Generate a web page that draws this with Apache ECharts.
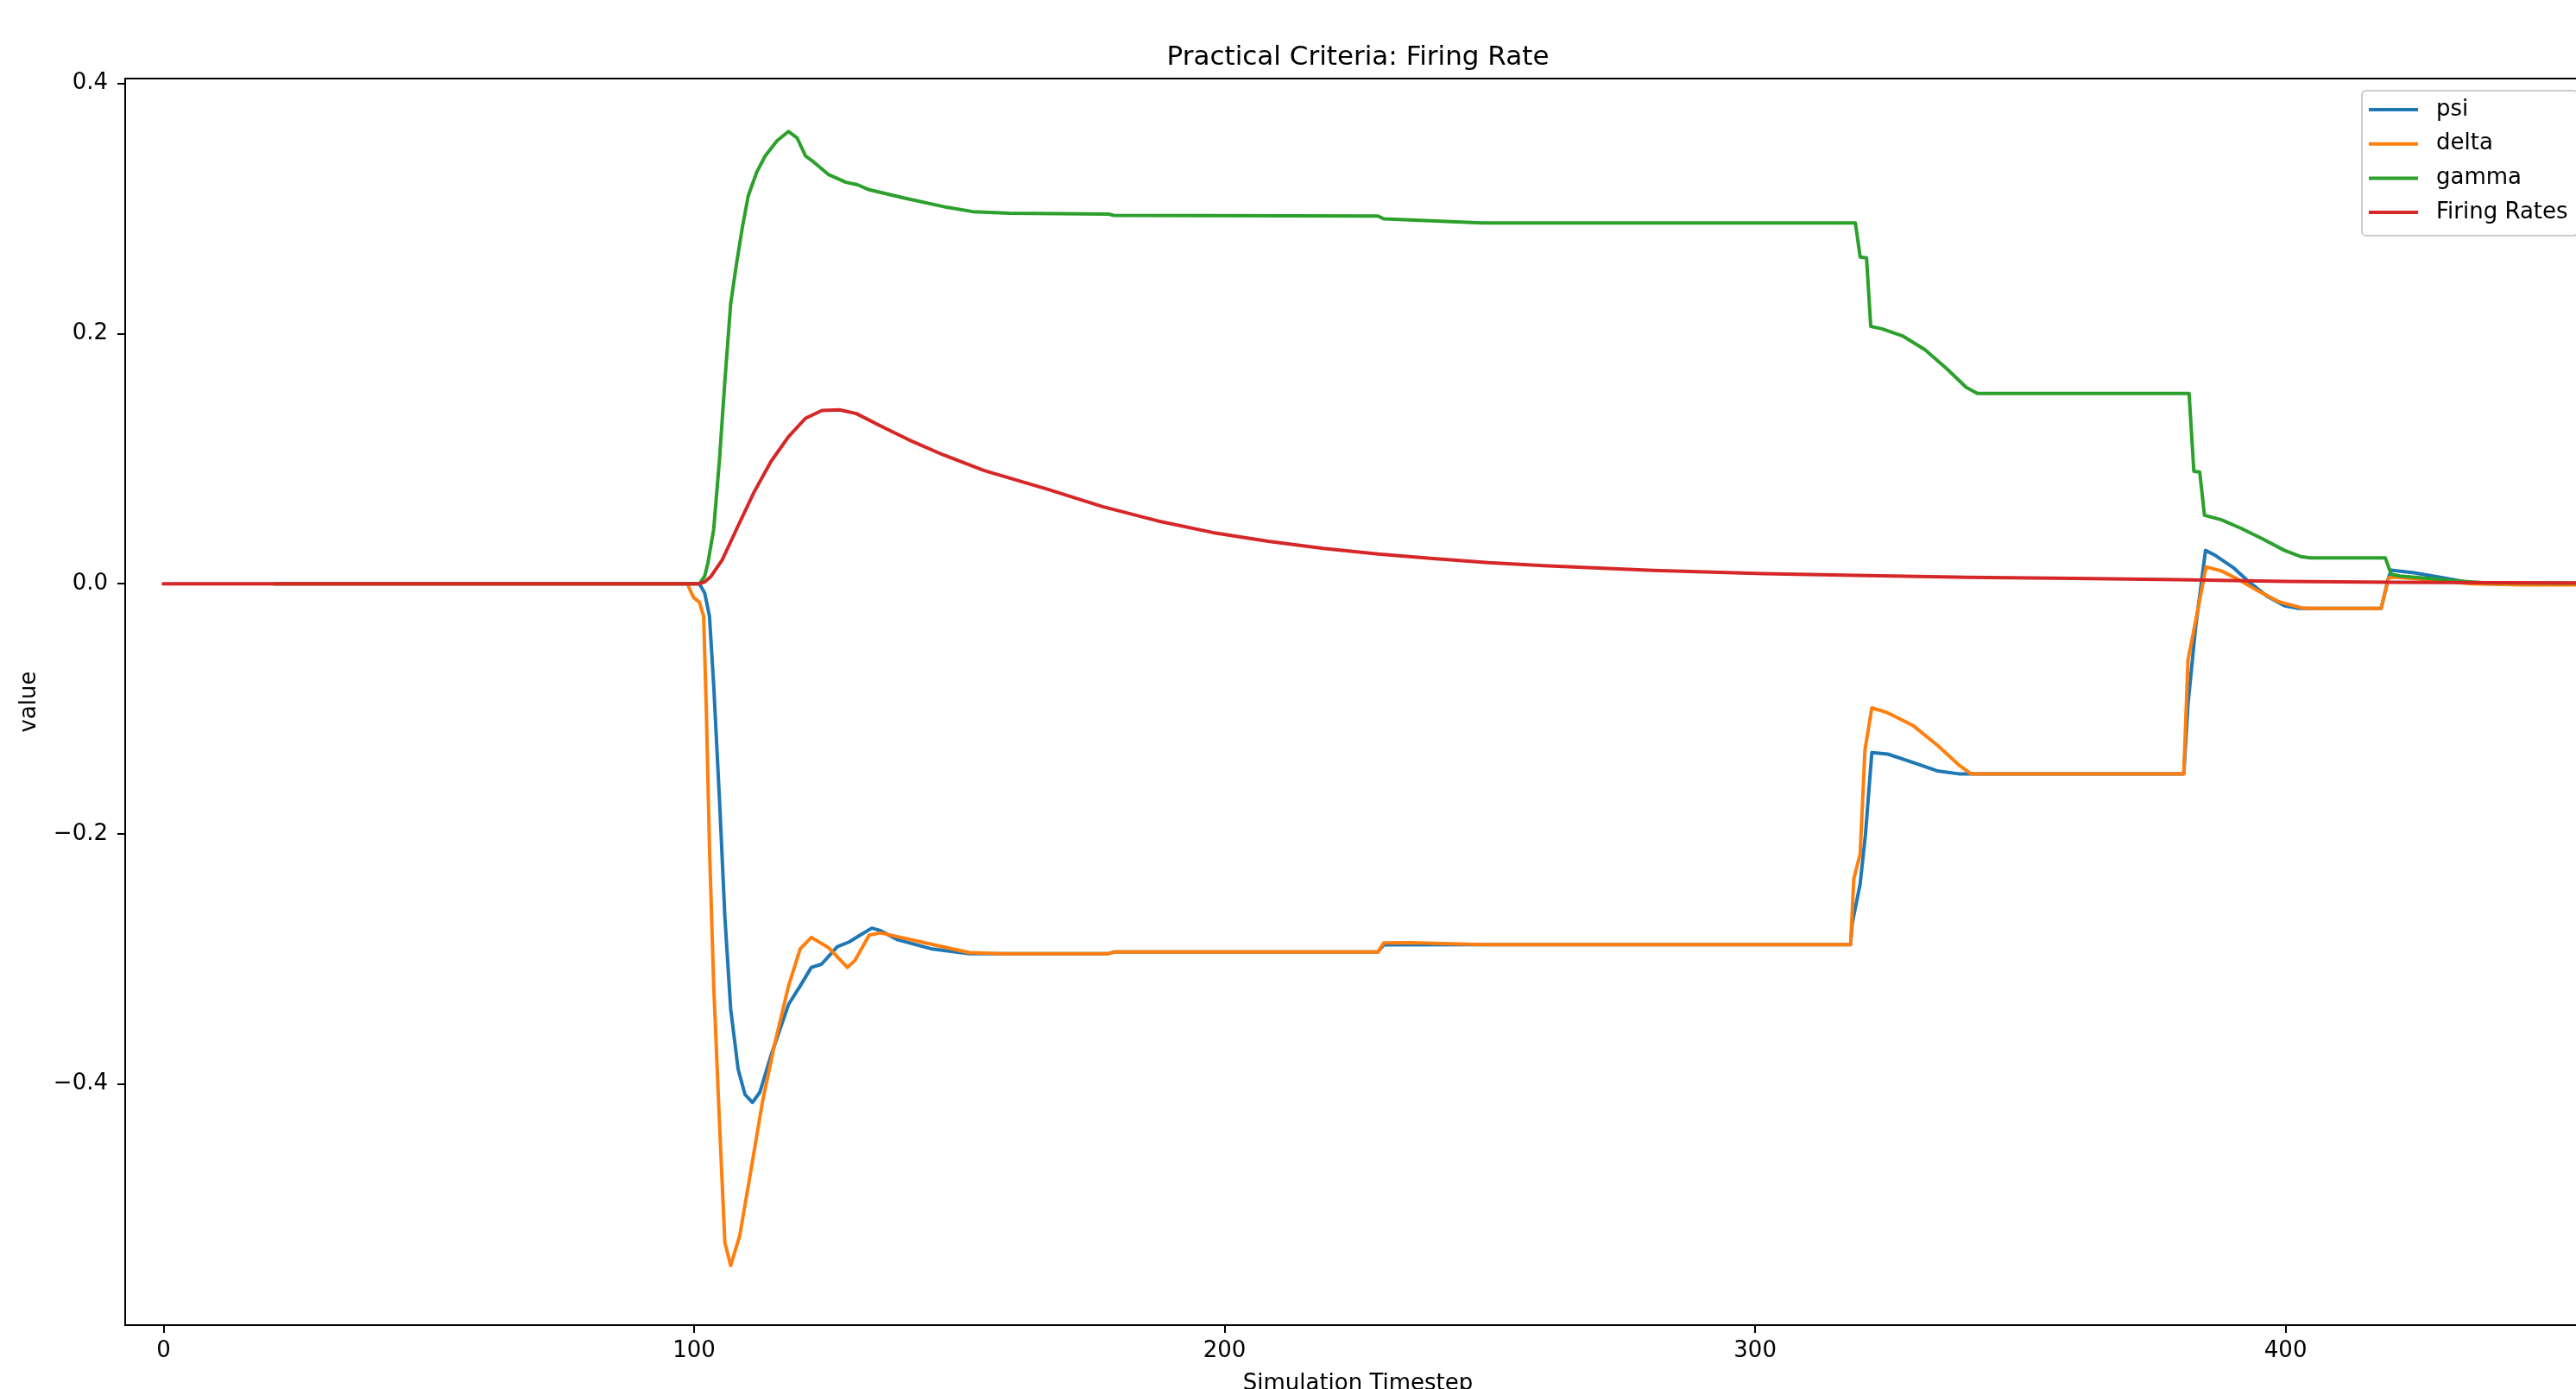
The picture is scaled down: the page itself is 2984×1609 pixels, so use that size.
<!DOCTYPE html>
<html>
<head>
<meta charset="utf-8">
<script src="https://cdn.jsdelivr.net/npm/echarts@6/dist/echarts.min.js"></script>
<style>
html,body{margin:0;padding:0;background:#fff;}
#chart{width:2984px;height:1609px;}
</style>
</head>
<body>
<div id="chart"></div>
<script>
// ---- data ([timestep, value]) ----
const seriesNames = ['psi', 'delta', 'gamma', 'Firing Rates'];
const xTickValues = [0, 100, 200, 300, 400];
const yTickValues = [-0.4, -0.2, 0, 0.2, 0.4];

const psi = [
  [21,0],[101,0],[102,-0.0075],[102.9,-0.026],[103.7,-0.0814],[104.8,-0.1738],[105.8,-0.2662],
  [106.9,-0.3401],[108.3,-0.3882],[109.6,-0.4085],[111,-0.4148],[112.4,-0.4066],[114.5,-0.3771],
  [117.8,-0.3364],[120,-0.3216],[122.1,-0.3068],[124,-0.3043],[127,-0.2902],[129.2,-0.2865],
  [131.3,-0.281],[133.5,-0.2754],[135.1,-0.2773],[138.4,-0.2847],[144.9,-0.2921],[151.9,-0.2958],
  [164.4,-0.2958],[178.1,-0.2958],[179.1,-0.2945],[228.9,-0.2945],[230,-0.2888],[248.6,-0.2885],
  [318,-0.2885],[318.3,-0.2716],[319.8,-0.24],[320.8,-0.2003],[322,-0.135],[325,-0.1362],
  [329.7,-0.1429],[334.3,-0.1496],[338.4,-0.152],[380.8,-0.152],[381.6,-0.0962],[383,-0.0362],
  [384.9,0.0266],[386.8,0.0225],[390.1,0.013],[393.3,0.0007],[396.6,-0.0103],[399.8,-0.0176],
  [402.5,-0.0198],[418,-0.0198],[419.4,0.0048],[419.9,0.0108],[424.2,0.0088],[429.6,0.0048],
  [435,0.0007],[440.4,-0.0001],[460,0]
];

const delta = [
  [21,0],[98.8,0],[99.1,-0.0037],[99.9,-0.011],[101,-0.0148],[101.8,-0.026],[102.3,-0.0999],
  [102.9,-0.2108],[103.7,-0.3217],[104.8,-0.4325],[105.8,-0.5268],[106.9,-0.5452],[108.6,-0.5213],
  [110.7,-0.4695],[112.9,-0.414],[115.1,-0.3697],[117.8,-0.3216],[120,-0.292],[122.1,-0.2828],
  [125.4,-0.2912],[128.9,-0.3068],[130.3,-0.3013],[133,-0.281],[135.1,-0.2792],[144.9,-0.2884],
  [151.9,-0.295],[157.9,-0.2958],[178.1,-0.2958],[179.1,-0.2945],[228.9,-0.2945],[230,-0.2872],
  [235,-0.287],[248.6,-0.2885],[318,-0.2885],[318.6,-0.236],[319.8,-0.2161],[320.7,-0.133],
  [322,-0.0993],[325,-0.1032],[329.7,-0.1132],[334.3,-0.129],[338.4,-0.1449],[340.7,-0.152],
  [380.8,-0.152],[381.6,-0.0607],[383,-0.0307],[385,0.0135],[387.9,0.0102],[391.1,0.0034],
  [394.4,-0.0048],[398.7,-0.0144],[403,-0.0193],[404.7,-0.0198],[418,-0.0198],[419.4,0.0048],
  [420.4,0.0053],[426.9,0.0032],[435,0],[445,-0.001],[460,-0.001]
];

const gamma = [
  [21,0],[101,0],[102,0.006],[102.6,0.0166],[103.7,0.0436],[104.8,0.1],[105.8,0.162],[106.9,0.224],
  [108,0.256],[109.1,0.285],[110.2,0.31],[111.8,0.329],[113.4,0.342],[115.6,0.354],[117.8,0.3616],
  [119.4,0.3566],[121,0.342],[122.6,0.337],[125.4,0.327],[128.6,0.321],[130.8,0.319],[133,0.315],
  [139.5,0.3085],[147.6,0.301],[152.5,0.2975],[159.4,0.2963],[178.1,0.2956],[179.1,0.2945],
  [228.9,0.294],[230,0.2917],[248.6,0.2885],[318.9,0.2885],[319.8,0.2612],[321,0.2605],
  [321.8,0.2057],[323.9,0.2038],[327.9,0.1979],[332,0.1872],[336.1,0.172],[339.8,0.157],
  [341.9,0.1522],[381.8,0.1522],[382.7,0.0899],[383.8,0.0894],[384.7,0.0547],[387.9,0.0511],
  [391.6,0.0443],[395.5,0.0362],[399.8,0.0266],[402.8,0.0217],[404.7,0.0206],[418.8,0.0206],
  [419.9,0.0075],[421.5,0.0061],[426.9,0.0042],[432.3,0.0021],[437.7,0.0007],[460,0.0003]
];

const firingRates = [
  [0,0],[101,0],[102,0.0015],[103.1,0.0054],[105.3,0.019],[108,0.0436],[111.3,0.0732],[114.5,0.0978],
  [117.8,0.1175],[121,0.1323],[124.1,0.1385],[127.4,0.139],[130.6,0.136],[135.1,0.1262],
  [140.5,0.115],[147.1,0.1028],[154.7,0.0904],[166.7,0.0754],[177,0.0616],[187.4,0.0502],
  [197.8,0.0409],[208.2,0.034],[218.6,0.0283],[228.9,0.0237],[239.3,0.0202],[249.7,0.0168],
  [260.1,0.0145],[280.8,0.0106],[301.6,0.0081],[319,0.0066],[340,0.0052],[360,0.0042],
  [380,0.0032],[400,0.0019],[420,0.0012],[440,0.0008],[460,0.0005]
];

const seriesData = [psi, delta, gamma, firingRates];
const colors = ['#1f77b4', '#ff7f0e', '#2ca02c', '#d62728'];

const FONT = 'DejaVu Sans';

const chart = echarts.init(document.getElementById('chart'), null, {renderer: 'canvas'});

const option = {
  animation: false,
  backgroundColor: '#ffffff',
  title: {
    text: 'Practical Criteria: Firing Rate',
    left: 1573,
    top: 51,
    textAlign: 'center',
    padding: 0,
    textStyle: {fontFamily: FONT, fontSize: 31, fontWeight: 'normal', color: '#000', lineHeight: 31}
  },
  legend: {
    orient: 'vertical',
    left: 2736,
    top: 105,
    data: seriesNames.map(n => ({name: n, icon: 'rect'})),
    itemWidth: 57,
    itemHeight: 4,
    itemGap: 9.7,
    padding: [7, 11, 12, 8],
    backgroundColor: 'rgba(255,255,255,0.8)',
    borderColor: '#cccccc',
    borderWidth: 2,
    borderRadius: 5,
    textStyle: {fontFamily: FONT, fontSize: 26, color: '#000', lineHeight: 30, padding: [0, 0, 0, 16]}
  },
  grid: {
    left: 145, top: 91, right: -17, bottom: 74,
    show: true, borderColor: '#000', borderWidth: 2, backgroundColor: 'transparent',
    containLabel: false,
    outerBoundsMode: 'none'
  },
  xAxis: {
    type: 'value',
    min: -7.24,
    max: 457.5,
    name: 'Simulation Timestep',
    nameLocation: 'middle',
    nameGap: 55,
    nameTextStyle: {fontFamily: FONT, fontSize: 26, color: '#000', lineHeight: 26},
    axisLine: {show: true, onZero: false, lineStyle: {color: '#000', width: 2}},
    axisTick: {show: true, inside: false, length: 9, lineStyle: {color: '#000', width: 2}, customValues: xTickValues},
    axisLabel: {show: true, margin: 17, fontFamily: FONT, fontSize: 26, color: '#000', lineHeight: 26, customValues: xTickValues},
    splitLine: {show: false}
  },
  yAxis: {
    type: 'value',
    min: -0.5928,
    max: 0.4039,
    name: 'value',
    nameLocation: 'middle',
    nameRotate: 90,
    nameGap: 98,
    nameTextStyle: {fontFamily: FONT, fontSize: 26, color: '#000', lineHeight: 26},
    axisLine: {show: true, onZero: false, lineStyle: {color: '#000', width: 2}},
    axisTick: {show: true, inside: false, length: 9, lineStyle: {color: '#000', width: 2}, customValues: yTickValues},
    axisLabel: {
      show: true, margin: 20, fontFamily: FONT, fontSize: 26, color: '#000', lineHeight: 26,
      padding: [4, 0, 0, 0],
      customValues: yTickValues,
      formatter: v => (v < 0 ? '\u2212' : '') + Math.abs(v).toFixed(1)
    },
    splitLine: {show: false}
  },
  series: seriesNames.map((n, i) => ({
    name: n,
    type: 'line',
    data: seriesData[i],
    symbol: 'none',
    showSymbol: false,
    smooth: false,
    color: colors[i],
    lineStyle: {color: colors[i], width: 4, join: 'round', cap: 'square'},
    emphasis: {disabled: true},
    clip: true
  }))
};

chart.setOption(option);
</script>
</body>
</html>
